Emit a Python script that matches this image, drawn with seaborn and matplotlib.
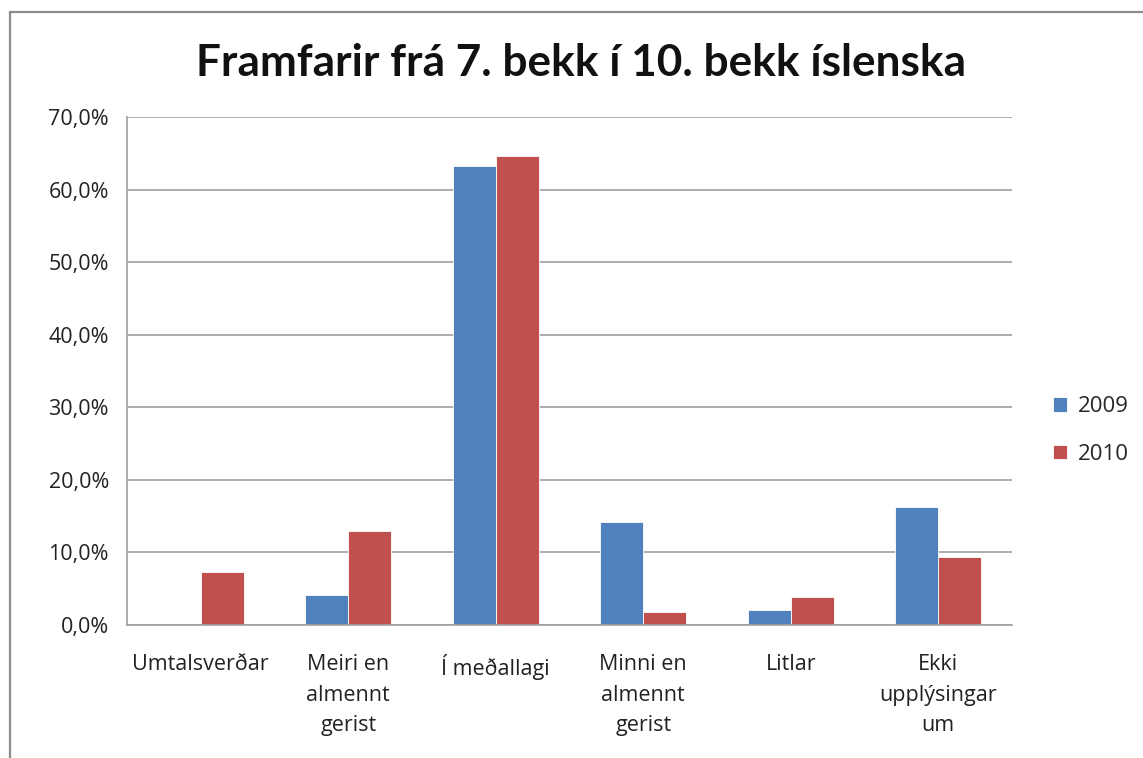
import pandas as pd
import seaborn as sns
import matplotlib.pyplot as plt
from matplotlib.patches import Rectangle
from matplotlib.ticker import FuncFormatter

categories = ["Umtalsverðar", "Meiri en\nalmennt\ngerist", "Í meðallagi",
              "Minni en\nalmennt\ngerist", "Litlar", "Ekki\nupplýsingar\num"]
years = ["2009", "2010"]
vals_2009 = [0.0, 4.1, 63.3, 14.2, 2.0, 16.2]
vals_2010 = [7.3, 12.9, 64.6, 1.8, 3.8, 9.4]
yticks = [0, 10, 20, 30, 40, 50, 60, 70]

df = pd.DataFrame({
    "cat": categories * 2,
    "year": [years[0]] * len(categories) + [years[1]] * len(categories),
    "val": vals_2009 + vals_2010,
})

sns.set_theme(style="white")
plt.rcParams['font.family'] = ['Open Sans', 'DejaVu Sans']

fig = plt.figure(figsize=(11.43, 7.58), dpi=100)
ax = fig.add_axes([127 / 1143, 1 - 625 / 758, (1012 - 127) / 1143, (625 - 117) / 758])

sns.barplot(data=df, x="cat", y="val", hue="year", order=categories,
            palette=["#4F81BD", "#C0504D"], width=0.58, ax=ax,
            edgecolor="#ffffff", linewidth=0.6, saturation=1)

ax.set_ylim(0, 70)
ax.set_yticks(yticks)
ax.yaxis.set_major_formatter(FuncFormatter(lambda v, p: f"{v:.1f}%".replace(".", ",")))
ax.grid(axis="y", color="#A0A0A0", linewidth=1.2)
ax.set_axisbelow(True)
for s in ["top", "right"]:
    ax.spines[s].set_visible(False)
for s in ["left", "bottom"]:
    ax.spines[s].set_color("#A0A0A0")
    ax.spines[s].set_linewidth(1.2)
ax.tick_params(axis="both", length=0, labelsize=15.5, colors="#222222")
ax.tick_params(axis="y", pad=13)
ax.tick_params(axis="x", pad=21)
for lbl in ax.get_xticklabels():
    lbl.set_linespacing(1.6)
    lbl.set_verticalalignment("top")
ax.set_xlabel("")
ax.set_ylabel("")

leg = ax.legend(loc="center left", bbox_to_anchor=(1.024, 0.383), frameon=False,
                fontsize=16, handlelength=0.6, handleheight=0.6,
                handletextpad=0.5, labelspacing=1.18)

fig.text(0.508, 0.917, "Framfarir frá 7. bekk í 10. bekk íslenska",
         ha="center", va="center", fontsize=31.8, fontweight="bold",
         family=["Lato", "DejaVu Sans"], color="#111111")

fig.add_artist(Rectangle((10 / 1143, -0.05), 1.2, 1.05 - 12 / 758,
                         transform=fig.transFigure, fill=False,
                         edgecolor="#8C8C8C", linewidth=1.6))

fig.savefig("out.png", dpi=100)
